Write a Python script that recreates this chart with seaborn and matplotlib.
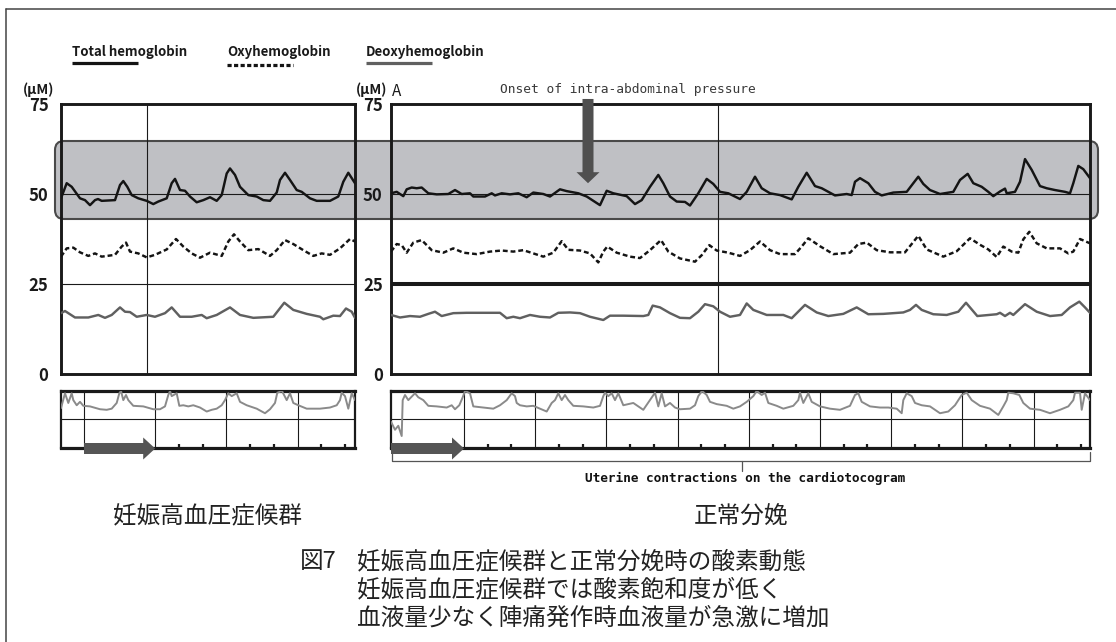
import matplotlib
matplotlib.use("Agg")
import matplotlib.pyplot as plt
import pandas as pd
import seaborn as sns
from matplotlib.patches import FancyBboxPatch, Polygon
from matplotlib.lines import Line2D
from matplotlib.transforms import Affine2D

# ---------------------------------------------------------------------------
# Hemoglobin traces (μM) as (time, value) pairs, time in recording units
# ---------------------------------------------------------------------------
# 妊娠高血圧症候群
pih_total = [(0, 48.8), (5.7, 53.0), (10.7, 52.0), (19, 48.8), (24, 48.3), (29, 46.9), (34, 48.3),
             (37, 48.6), (40.7, 48.1), (54, 48.3), (59, 52.5), (62.3, 53.6), (66.3, 52.0), (70.7, 49.7),
             (77.3, 48.8), (85.7, 48.1), (92.3, 47.2), (97.3, 47.9), (105.7, 48.8), (110.7, 53.0),
             (114, 54.2), (119, 51.1), (124, 50.9), (129, 49.3), (135.7, 47.7), (142.3, 48.3), (149, 49.1),
             (155.7, 48.1), (160.7, 49.7), (165.7, 55.7), (169, 57.1), (174, 55.3), (179, 52.0),
             (187.3, 49.7), (195.7, 49.3), (202.3, 48.3), (209, 48.1), (215.7, 50.4), (219, 53.9),
             (224, 55.9), (229, 53.9), (235.7, 51.1), (240.7, 50.6), (249, 48.8), (255.7, 48.1), (269, 48.1),
             (277.3, 49.3), (282.3, 53.4), (287.3, 55.9), (294, 53.0)]
pih_oxy = [(0, 32.6), (5.7, 34.9), (12.3, 35.1), (19, 33.8), (27.3, 32.8), (34, 33.5), (40.7, 32.6),
           (54, 33.1), (60.7, 35.4), (65, 36.5), (69, 34.0), (77.3, 33.5), (85.7, 32.4), (94, 33.1),
           (105.7, 34.6), (115, 37.5), (122.3, 35.4), (130.7, 33.5), (139, 32.3), (149, 33.7), (160.7, 32.8),
           (167.3, 36.8), (173, 38.8), (179, 36.8), (187.3, 34.4), (197.3, 34.7), (209, 32.8), (215.7, 34.4),
           (224, 37.2), (232.3, 36.1), (242.3, 34.4), (252.3, 32.8), (260.7, 33.5), (269, 33.1), (279, 34.9),
           (289, 37.5), (294, 36.8)]
pih_deoxy = [(0, 16.9), (4, 17.5), (14, 15.7), (27.3, 15.7), (37.3, 16.4), (44, 15.6), (50.7, 16.4),
             (59, 18.5), (64, 17.3), (69, 17.2), (75.7, 15.9), (85.7, 16.4), (94, 15.9), (104, 16.9),
             (110.7, 18.5), (119, 15.9), (130.7, 15.9), (140.7, 16.4), (145.7, 15.5), (155.7, 16.4),
             (169, 18.5), (179, 16.4), (192.3, 15.6), (212.3, 15.9), (223.3, 19.8), (232.3, 17.8),
             (245.7, 16.7), (259, 15.9), (262.3, 15.2), (272.3, 16.2), (279, 16.1), (285, 18.2), (290.7, 17.3),
             (294, 15.6)]

# 正常分娩
nd_total = [(0, 50.2), (5.7, 50.6), (12.3, 49.4), (15.7, 51.3), (20.7, 51.8), (25.7, 51.6), (30.7, 51.8),
            (37.3, 50.2), (45.7, 49.9), (57.3, 50.0), (64, 51.1), (70.7, 50.0), (79, 50.2), (82.3, 49.3),
            (94, 49.3), (100.7, 50.2), (104, 49.6), (110.7, 50.2), (119, 49.9), (127.3, 50.2), (135.7, 49.1),
            (142.3, 50.4), (152.3, 50.0), (159, 49.3), (169, 51.3), (175.7, 50.8), (187.3, 50.2),
            (195.7, 49.3), (209, 46.9), (215.7, 50.9), (222.3, 50.2), (235.7, 49.4), (244, 47.2),
            (250.7, 48.3), (259, 52.0), (267.3, 55.3), (272.3, 53.0), (279, 49.3), (285.7, 47.9), (294, 47.8),
            (299, 46.8), (307.3, 50.2), (315.7, 54.2), (322.3, 52.8), (329, 50.6), (337.3, 50.2), (349, 48.6),
            (355.7, 50.6), (364, 54.8), (370.7, 51.6), (379, 50.2), (389, 49.7), (400.7, 48.5), (407.3, 52.0),
            (415.7, 55.9), (424, 52.2), (430.7, 51.6), (444, 49.6), (455.7, 50.0), (460.7, 49.7), (464, 53.4),
            (469, 54.4), (477.3, 53.0), (484, 50.6), (490.7, 49.6), (502.3, 50.4), (515.7, 50.6), (522.3, 53.0),
            (527.3, 54.8), (532.3, 52.8), (539, 51.1), (549, 50.0), (562.3, 50.6), (569, 53.9), (576.7, 55.6),
            (582.3, 53.0), (590.7, 52.0), (597.3, 50.6), (602.3, 49.4), (609, 50.7), (614, 51.5),
            (615.7, 50.2), (624, 50.6), (629, 53.4), (634, 59.7), (640.7, 56.7), (649, 52.2), (655.7, 51.6),
            (664, 51.1), (674, 50.6), (679, 50.2), (682.3, 53.0), (687.3, 57.8), (692.3, 56.9), (699, 54.4)]
nd_oxy = [(0, 34.0), (5.7, 36.1), (10.7, 35.8), (15.7, 33.7), (22.3, 36.5), (30.7, 37.2), (40.7, 34.4),
          (52.3, 33.7), (62.3, 34.9), (72.3, 33.7), (85.7, 33.3), (99, 34.0), (110.7, 34.3), (122.3, 34.0),
          (132.3, 34.4), (142.3, 33.5), (152.3, 32.6), (162.3, 33.7), (170.7, 36.9), (177.3, 34.5),
          (189, 34.3), (199, 33.5), (207.3, 31.0), (212.3, 34.0), (216.3, 35.4), (225.7, 33.7), (239, 32.6),
          (249, 32.2), (259, 34.4), (270, 37.2), (277.3, 34.0), (289, 32.1), (304, 31.2), (310.7, 33.0),
          (318.3, 35.8), (325.7, 34.3), (337.3, 33.7), (349, 32.8), (359, 34.4), (369, 36.8), (379, 34.4),
          (389, 33.3), (404, 33.3), (410.7, 35.4), (417.3, 37.7), (429, 35.5), (442.3, 33.3), (459, 33.7),
          (467.3, 36.1), (475.7, 36.5), (485.7, 34.4), (499, 33.8), (514, 33.8), (527.3, 38.4), (535.7, 34.6),
          (552.3, 32.6), (565.7, 34.1), (579, 37.7), (589, 35.9), (597.3, 34.6), (605.7, 32.5), (612.3, 35.4),
          (620.7, 34.0), (627.3, 33.7), (632.3, 37.4), (638.3, 39.5), (645.7, 36.3), (655.7, 34.9),
          (669, 34.9), (677.3, 33.5), (682.3, 34.0), (689, 37.5), (699, 36.3)]
nd_deoxy = [(0, 16.4), (9, 15.7), (19, 16.1), (29, 15.9), (37.3, 16.7), (44, 17.3), (50.7, 16.1),
            (62.3, 16.9), (75.7, 17.0), (109, 17.0), (115.7, 15.5), (122.3, 15.9), (129, 15.5), (139, 16.4),
            (149, 15.9), (159, 15.7), (167.3, 17.0), (179, 17.1), (189, 16.9), (199, 15.9), (212.3, 15.0),
            (219, 16.2), (232.3, 16.2), (252.3, 16.1), (257.3, 16.4), (261.7, 19.0), (269, 18.5), (279, 16.9),
            (289, 15.6), (299, 15.5), (307.3, 17.3), (314, 19.4), (322.3, 18.8), (329, 17.3), (339, 15.9),
            (349, 16.4), (355.7, 19.6), (362.3, 17.8), (375.7, 16.4), (392.3, 16.4), (400.7, 15.5),
            (414, 19.2), (425.7, 17.1), (437.3, 16.1), (452.3, 16.7), (465.7, 18.5), (477.3, 16.6),
            (492.3, 16.7), (512.3, 17.1), (519, 17.8), (525, 19.2), (530.7, 17.8), (542.3, 16.6),
            (555.7, 16.4), (567.3, 17.3), (575, 19.8), (586.3, 16.1), (605.7, 16.6), (609, 17.0), (614, 16.1),
            (619, 17.0), (622.3, 16.4), (634, 19.4), (645.7, 17.3), (659, 16.1), (670.7, 16.4), (679, 18.5),
            (688.3, 20.1), (694, 18.5), (699, 17.0)]

# Cardiotocogram traces (chart-paper scale 0-100)
pih_ctg = [(0, 70), (4, 96), (7.3, 79), (10.7, 96), (12.3, 84), (15.7, 75), (19, 81), (22.3, 74), (29, 73),
           (39, 68), (45.7, 67), (50.7, 69), (55.7, 79), (58.3, 96), (60, 100), (62.3, 84), (65, 93),
           (67.3, 84), (72.3, 74), (82.3, 73), (92.3, 68), (99, 68), (104, 73), (107.3, 93), (109, 100),
           (110.7, 91), (115.7, 96), (118.3, 74), (122.3, 75), (127.3, 73), (132.3, 75), (139, 71), (145.7, 64),
           (150.7, 67), (155.7, 69), (160.7, 75), (164, 84), (167.3, 96), (170.7, 91), (175.7, 96), (179, 81),
           (185.7, 75), (195.7, 69), (204, 61), (209, 68), (214, 79), (216.3, 97), (221, 100), (225.7, 84),
           (229, 96), (232.3, 79), (237.3, 75), (245.7, 69), (259, 69), (269, 71), (275.7, 75), (279, 84),
           (280.7, 97), (284, 91), (287.3, 69), (290.7, 96), (294, 84)]
nd_ctg = [(0, 46), (4, 32), (7.3, 39), (10.7, 21), (11.7, 84), (14, 93), (17.3, 84), (24, 96), (27.3, 89),
          (32.3, 84), (37.3, 74), (45.7, 73), (55.7, 71), (60.7, 75), (64, 68), (68.3, 75), (71.7, 89),
          (74, 100), (79, 96), (82.3, 73), (92.3, 71), (102.3, 69), (109, 75), (115.7, 84), (120.7, 96),
          (124, 91), (125.7, 79), (129, 75), (135.7, 73), (142.3, 74), (149, 69), (155.7, 64), (160.7, 79),
          (164, 84), (167.3, 96), (170.7, 84), (174, 93), (177.3, 84), (182.3, 74), (192.3, 73), (202.3, 71),
          (209, 74), (212.3, 91), (214, 97), (217.3, 91), (220.7, 96), (224, 84), (227.3, 96), (232.3, 75),
          (242.3, 79), (247.3, 73), (252.3, 67), (259, 84), (264, 97), (267.3, 73), (270.7, 96), (274, 73),
          (279, 79), (284, 71), (289, 68), (299, 69), (304, 75), (307.3, 91), (311, 100), (315.7, 93),
          (319, 81), (325.7, 77), (335.7, 74), (342.3, 69), (349, 73), (355.7, 81), (362.3, 91),
          (365.7, 100), (370.7, 93), (374, 97), (377.3, 79), (385.7, 74), (392.3, 69), (402.3, 74),
          (407.3, 84), (409, 97), (412.3, 79), (417.3, 96), (420.7, 81), (429, 73), (439, 69), (449, 67),
          (459, 74), (464, 93), (467.3, 96), (470.7, 81), (479, 73), (489, 71), (497.3, 71), (505.7, 69),
          (510.7, 61), (512.3, 84), (515.7, 96), (520.7, 91), (524, 79), (530.7, 75), (539, 73), (549, 61),
          (557.3, 64), (564, 75), (570.7, 93), (575.7, 97), (580.7, 84), (589, 74), (599, 69), (607.3, 58),
          (612.3, 73), (615.7, 84), (617.3, 97), (622.3, 96), (628.3, 93), (632.3, 79), (639, 69), (649, 67),
          (659, 61), (669, 67), (677.3, 73), (682.3, 84), (684, 97), (689, 97), (690.7, 67), (694, 96),
          (699, 84)]

series_names = ["Total hemoglobin", "Oxyhemoglobin", "Deoxyhemoglobin"]
y_ticks = [0, 25, 50, 75]
panel_titles = ["妊娠高血圧症候群", "正常分娩"]
caption_label = "図7"
caption_lines = ["妊娠高血圧症候群と正常分娩時の酸素動態",
                 "妊娠高血圧症候群では酸素飽和度が低く",
                 "血液量少なく陣痛発作時血液量が急激に増加"]
onset_time = 197      # onset of intra-abdominal pressure (normal delivery)
marker_time = (86, 327)
span = (294, 699)

# ---------------------------------------------------------------------------
W, H = 1116, 642
sns.set_theme(style="white")
plt.rcParams["font.family"] = ["Noto Sans CJK JP", "DejaVu Sans"]
plt.rcParams["axes.unicode_minus"] = False

fig = plt.figure(figsize=(W / 100, H / 100), dpi=100)
fig.patch.set_facecolor("white")
PX = Affine2D().scale(1, -1).translate(0, H)   # pixel coords, origin top-left
INK = "#1a1a1a"


def rect(x0, y0, x1, y1):
    return [x0 / W, 1 - y1 / H, (x1 - x0) / W, (y1 - y0) / H]


def to_px(ax, x, y):
    dx, dy = ax.transData.transform((x, y))
    return dx, H - dy


def long_form(groups):
    rows = [(name, t, v) for name, pts in groups for t, v in pts]
    return pd.DataFrame(rows, columns=["series", "time", "uM"])


ax_l = fig.add_axes(rect(61, 104, 355, 374))
ax_r = fig.add_axes(rect(391, 104, 1090, 374))
ctg_l = fig.add_axes(rect(61, 391, 355, 448))
ctg_r = fig.add_axes(rect(391, 391, 1090, 448))

palette = {"Total hemoglobin": "#141414", "Oxyhemoglobin": "#141414", "Deoxyhemoglobin": "#606060"}
dashes = {"Total hemoglobin": "", "Oxyhemoglobin": (2.0, 1.2), "Deoxyhemoglobin": ""}

panels = [
    (ax_l, [pih_total, pih_oxy, pih_deoxy], span[0], marker_time[0], 0.8, 9),
    (ax_r, [nd_total, nd_oxy, nd_deoxy], span[1], marker_time[1], 2.9, 6),
]
for ax, traces, xmax, mark, w25, pad in panels:
    ax.set_facecolor("none")
    ax.axhline(50, color=INK, lw=0.8, zorder=1)
    ax.axhline(25, color=INK, lw=w25, zorder=1)
    ax.axvline(mark, color=INK, lw=0.8, zorder=1)
    df = long_form(zip(series_names, traces))
    sns.lineplot(data=df, x="time", y="uM", hue="series", style="series",
                 palette=palette, dashes=dashes, estimator=None, sort=False,
                 linewidth=1.75, legend=False, ax=ax, zorder=3)
    ax.set_xlim(0, xmax)
    ax.set_ylim(0, 75)
    ax.set_xticks([])
    ax.set_yticks(y_ticks)
    ax.set_yticklabels([str(v) for v in y_ticks], fontsize=12, fontweight="bold", color=INK)
    ax.tick_params(axis="y", length=0, pad=pad)
    ax.set_xlabel("")
    ax.set_ylabel("")
    for sp in ax.spines.values():
        sp.set_visible(True)
        sp.set_color(INK)
        sp.set_linewidth(2.1)

# Cardiotocogram strips
GRID = 71.2
for ax, trace, xmax, first_line, tick_from in [(ctg_l, pih_ctg, span[0], 23, 1), (ctg_r, nd_ctg, span[1], 73, 0)]:
    df = pd.DataFrame(trace, columns=["time", "ctg"])
    sns.lineplot(data=df, x="time", y="ctg", color="#8a8a8a", linewidth=1.4,
                 estimator=None, sort=False, ax=ax, zorder=3)
    ax.set_xlim(0, xmax)
    ax.set_ylim(0, 100)
    ax.axhline(51, color=INK, lw=0.8, zorder=1)
    lines = []
    x = first_line
    while x < xmax - 5:
        lines.append(x)
        x += GRID
    ax.vlines(lines, 0, 100, color=INK, lw=0.8, zorder=1)
    ticks = [g + k * GRID / 3 for g in lines[tick_from:] for k in (1, 2) if g + k * GRID / 3 < xmax - 3]
    ax.set_xticks(ticks)
    ax.set_yticks([])
    ax.tick_params(axis="x", which="both", direction="in", length=3, width=1.6,
                   color=INK, bottom=True, top=False, labelbottom=False)
    ax.set_xlabel("")
    ax.set_ylabel("")
    for name, sp in ax.spines.items():
        sp.set_visible(True)
        sp.set_color(INK)
        sp.set_linewidth(2.3 if name in ("top", "bottom") else 1.6)

# Grey band marking the total-hemoglobin level across both recordings
band = FancyBboxPatch((55, 141), 1043, 78, boxstyle="round,pad=0,rounding_size=9",
                      transform=PX, facecolor="#bfc0c4", edgecolor="#4a4a4a", lw=1.5, zorder=-1)
fig.add_artist(band)


def block_arrow(x0, x1, yc, half_shaft, half_head, head_len):
    return [(x0, yc - half_shaft), (x1 - head_len, yc - half_shaft), (x1 - head_len, yc - half_head),
            (x1, yc), (x1 - head_len, yc + half_head), (x1 - head_len, yc + half_shaft),
            (x0, yc + half_shaft)]


# Arrows on the CTG strips (start of the contraction record)
for ax, t0, t1 in [(ctg_l, 23, 23 + GRID), (ctg_r, 0, 73)]:
    x0, yc = to_px(ax, t0, 0)
    x1, _ = to_px(ax, t1, 0)
    fig.add_artist(Polygon(block_arrow(x0, x1, yc + 0.5, 5.5, 11, 12), closed=True,
                           transform=PX, facecolor="#555555", edgecolor="none", zorder=6))

# Onset arrow (vertical, pointing down)
ox, tip_y = to_px(ax_r, onset_time, 53)
_, top_y = to_px(ax_r, onset_time, 76.4)
onset_pts = [(ox - 5.5, top_y), (ox + 5.5, top_y), (ox + 5.5, tip_y - 11), (ox + 11.5, tip_y - 11),
             (ox, tip_y), (ox - 11.5, tip_y - 11), (ox - 5.5, tip_y - 11)]
fig.add_artist(Polygon(onset_pts, closed=True, transform=PX, facecolor="#4f4f4f",
                       edgecolor="none", zorder=6))
fig.text(628, 90, "Onset of intra-abdominal pressure", transform=PX, ha="center", va="center",
         fontsize=9.3, family=["DejaVu Sans Mono"], color="#3a3a3a")

# Bracket under the normal-delivery CTG
bracket = dict(color="#555555", lw=0.9, transform=PX, zorder=4)
fig.add_artist(Line2D([392, 392, 1090, 1090], [448, 461, 461, 452], **bracket))
fig.add_artist(Line2D([742, 742], [461, 471], **bracket))
fig.text(745, 478, "Uterine contractions on the cardiotocogram", transform=PX, ha="center",
         va="center", fontsize=9.2, family=["DejaVu Sans Mono"], fontweight="bold", color="#111111")

# Legend: label with a short line sample beneath
legend_pos = [(72, 63, "-", "#141414"), (227, 65, (0, (1.3, 0.75)), "#141414"), (366, 63, "-", "#606060")]
for name, (lx, ly, ls, col) in zip(series_names, legend_pos):
    fig.text(lx, 52, name, transform=PX, ha="left", va="center", fontsize=9.5,
             fontweight="bold", color=INK)
    fig.add_artist(Line2D([lx, lx + 66], [ly, ly], transform=PX, color=col, lw=2.3, ls=ls,
                          solid_capstyle="butt", dash_capstyle="butt"))

# Unit labels
fig.text(54, 90, "(μM)", transform=PX, ha="right", va="center", fontsize=10,
         fontweight="bold", color=INK)
fig.text(387, 90, "(μM)", transform=PX, ha="right", va="center", fontsize=10,
         fontweight="bold", color=INK)
fig.text(392, 91, "A", transform=PX, ha="left", va="center", fontsize=11, color=INK)

# Panel titles and figure caption
cap = dict(transform=PX, va="center", fontsize=17, color="#222222")
fig.text(113, 517, panel_titles[0], ha="left", **cap)
fig.text(741, 517, panel_titles[1], ha="center", **cap)
fig.text(300, 562, caption_label, ha="left", **cap)
for i, line in enumerate(caption_lines):
    fig.text(357, 562 + 28 * i, line, ha="left", **cap)

# Page frame (top and left edges)
fig.add_artist(Line2D([6, W], [9, 9], transform=PX, color="#444444", lw=1.1))
fig.add_artist(Line2D([6, 6], [9, H], transform=PX, color="#444444", lw=1.1))

fig.savefig("out.png", dpi=100, facecolor="white")
